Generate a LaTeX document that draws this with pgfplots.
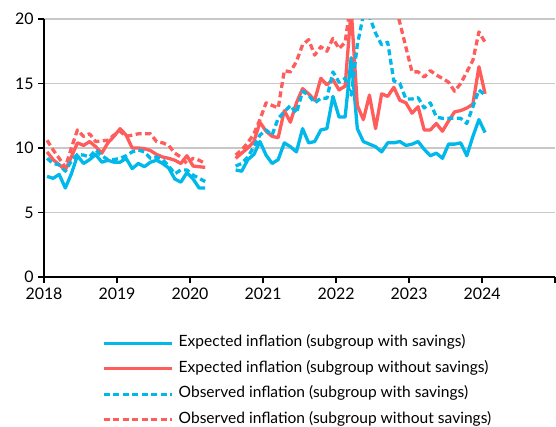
\documentclass[border=0pt]{standalone}
\usepackage{pgfplots}
\usepackage{pgfplotstable}
\pgfplotsset{compat=1.18}
\usepackage{fontspec}
\setmainfont{Lato}
\definecolor{ingblue}{RGB}{0,184,234}
\definecolor{ingred}{RGB}{255,92,92}
\definecolor{gridgray}{RGB}{200,200,200}

% x = year + (month-0.5)/12 ; es/en = expected (with/without savings), os/on = observed
\pgfplotstableread{
x es en os on
2018.042 7.8 9.7 9.2 10.6
2018.125 7.65 9.1 8.8 9.85
2018.208 7.95 8.7 8.7 9.2
2018.292 6.9 8.3 8.2 8.5
2018.375 8.0 9.3 9.0 10.0
2018.458 9.4 10.4 9.5 11.4
2018.542 8.8 10.2 9.45 10.9
2018.625 9.1 10.5 9.3 11.1
2018.708 9.5 10.1 9.85 10.5
2018.792 8.9 9.6 9.4 10.55
2018.875 9.05 10.4 9.1 10.6
2018.958 8.9 10.9 9.1 11.0
2019.042 8.9 11.5 9.2 11.3
2019.125 9.2 11.0 9.4 10.9
2019.208 8.4 10.0 9.7 11.0
2019.292 8.8 10.0 9.85 11.1
2019.375 8.55 9.95 9.7 11.1
2019.458 8.9 9.8 9.2 11.1
2019.542 9.05 9.5 9.3 10.5
2019.625 8.8 9.3 9.1 10.4
2019.708 8.45 9.2 8.6 10.2
2019.792 7.6 9.05 8.0 9.6
2019.875 7.35 8.8 8.3 9.3
2019.958 8.1 9.4 8.3 8.8
2020.042 7.6 8.6 7.9 9.2
2020.125 6.9 8.55 7.65 9.05
2020.208 6.9 8.5 7.4 8.8
2020.4 nan nan nan nan
2020.625 8.3 9.2 8.6 9.45
2020.708 8.2 9.6 8.8 9.85
2020.792 9.1 10.0 9.3 10.4
2020.875 9.5 10.5 10.1 11.1
2020.958 10.5 12.0 11.0 12.2
2021.042 9.45 11.3 11.4 13.5
2021.125 8.8 10.9 11.0 13.3
2021.208 9.1 10.8 12.3 13.1
2021.292 10.4 12.9 12.8 16.0
2021.375 10.1 12.0 13.3 15.9
2021.458 9.7 13.5 12.7 16.7
2021.542 11.5 14.6 14.4 18.0
2021.625 10.4 14.2 14.1 18.4
2021.708 10.5 13.7 13.5 17.2
2021.792 11.4 15.4 13.85 17.85
2021.875 11.5 14.9 13.85 17.5
2021.958 14.0 15.3 15.9 18.5
2022.042 12.4 14.5 15.1 17.7
2022.125 12.4 14.8 15.4 18.2
2022.208 17.0 20.8 14.1 21.5
2022.292 11.5 13.3 18.0 23.0
2022.375 10.5 12.2 20.3 24.0
2022.458 10.3 14.1 20.2 24.0
2022.542 10.1 11.5 18.9 23.5
2022.625 9.7 14.2 18.0 23.0
2022.708 10.4 14.0 18.2 22.5
2022.792 10.4 14.7 15.2 21.5
2022.875 10.5 13.7 15.0 19.7
2022.958 10.2 13.5 13.8 17.8
2023.042 10.3 12.7 13.8 15.9
2023.125 10.5 13.2 13.9 15.9
2023.208 9.9 11.4 13.1 15.5
2023.292 9.4 11.4 13.5 16.0
2023.375 9.6 11.9 12.4 15.65
2023.458 9.2 11.3 12.3 15.4
2023.542 10.3 12.1 12.3 15.1
2023.625 10.3 12.8 12.3 14.4
2023.708 10.4 12.9 12.3 15.0
2023.792 9.4 13.1 11.9 15.9
2023.875 10.9 13.4 13.2 16.8
2023.958 12.2 16.3 14.5 19.0
2024.042 11.2 14.2 14.1 18.2
}\datatable

\begin{document}
\begin{tikzpicture}
\begin{axis}[
  scale only axis,
  width=511bp, height=258bp,
  xmin=2018, xmax=2025, ymin=0, ymax=20,
  axis x line*=bottom, axis y line*=left,
  xtick={2018,2019,2020,2021,2022,2023,2024,2025},
  xticklabels={2018,2019,2020,2021,2022,2023,2024,},
  ytick={0,5,10,15,20},
  tick align=outside,
  major tick length=6bp,
  tick style={black, line width=1.1bp},
  axis line style={black, line width=1.3bp},
  ymajorgrids,
  grid style={gridgray, line width=1.2bp},
  /pgf/number format/assume math mode=true,
  ticklabel style={font=\fontsize{16}{19}\selectfont},
  xticklabel style={yshift=-1bp},
  yticklabel style={xshift=-1bp},
  unbounded coords=jump,
  legend style={at={(0.113,-0.222)}, anchor=north west, draw=none, fill=none,
    font=\fontsize{15.6}{18}\selectfont, row sep=8bp, column sep=4bp, inner sep=0pt,
    nodes={inner sep=1.5bp, text height=11bp, text depth=3.5bp}},
  legend cell align=left,
  legend image code/.code={\draw[#1] (0bp,0bp) -- (68bp,0bp);},
  every axis plot/.append style={line join=round},
]
\addplot[ingblue, line width=3.3bp] table[x=x, y=es] {\datatable};
\addlegendentry{Expected inflation (subgroup with savings)}
\addplot[ingred, line width=3.3bp] table[x=x, y=en] {\datatable};
\addlegendentry{Expected inflation (subgroup without savings)}
\addplot[ingblue, line width=3.3bp, dash pattern=on 6bp off 3.5bp] table[x=x, y=os] {\datatable};
\addlegendentry{Observed inflation (subgroup with savings)}
\addplot[ingred, line width=3.3bp, dash pattern=on 6bp off 3.5bp] table[x=x, y=on] {\datatable};
\addlegendentry{Observed inflation (subgroup without savings)}
\coordinate (bl) at (rel axis cs:0,0);
\coordinate (tr) at (rel axis cs:1,1);
\end{axis}
\pgfresetboundingbox
\path[use as bounding box] ([shift={(-44bp,-149bp)}]bl) rectangle ([shift={(1bp,19bp)}]tr);
\end{tikzpicture}
\end{document}
